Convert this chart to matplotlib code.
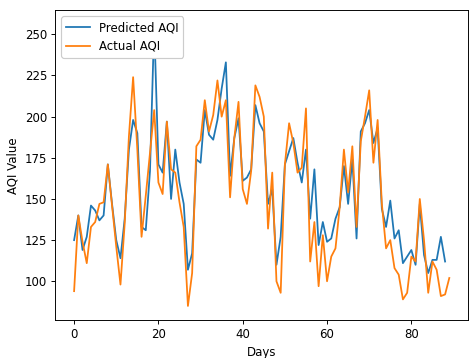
import numpy as np
import matplotlib
matplotlib.use('Agg')
import matplotlib.pyplot as plt

predicted = [125, 140, 119, 127, 146, 143, 137, 140, 171, 147,
             125, 114, 138, 180, 198, 190, 133, 131, 167, 256,
             171, 166, 197, 150, 180, 160, 147, 107, 117, 174,
             172, 204, 189, 186, 198, 217, 233, 164, 187, 199,
             161, 163, 168, 207, 196, 191, 147, 156, 110, 127,
             171, 179, 187, 172, 160, 180, 138, 168, 122, 136,
             124, 126, 138, 145, 170, 147, 174, 126, 191, 196,
             204, 184, 193, 144, 133, 149, 126, 131, 111, 115,
             119, 110, 147, 116, 105, 113, 113, 127, 112]

actual = [94, 140, 124, 111, 133, 136, 147, 148, 171, 146,
          121, 98, 135, 188, 224, 180, 127, 152, 178, 204,
          160, 153, 197, 168, 166, 148, 133, 85, 105, 182,
          186, 210, 191, 201, 222, 200, 210, 151, 187, 209,
          156, 147, 167, 219, 212, 200, 132, 166, 100, 93,
          171, 196, 184, 166, 169, 205, 112, 136, 97, 128,
          100, 115, 120, 145, 180, 154, 182, 133, 185, 200,
          216, 172, 198, 147, 120, 125, 108, 104, 89, 93,
          115, 112, 150, 125, 93, 112, 107, 91, 92, 102]

dpi = 85
fig = plt.figure(figsize=(469/dpi, 358/dpi), dpi=dpi)
ax = fig.add_subplot(111)
fig.subplots_adjust(left=0.118, right=0.998, top=0.971, bottom=0.106)

ax.plot(np.arange(len(predicted)), predicted, label='Predicted AQI')
ax.plot(np.arange(len(actual)), actual, label='Actual AQI')
ax.set_xlabel('Days')
ax.set_ylabel('AQI Value')
ax.legend(loc='upper left', framealpha=1)

fig.savefig('out.png', dpi=dpi)
